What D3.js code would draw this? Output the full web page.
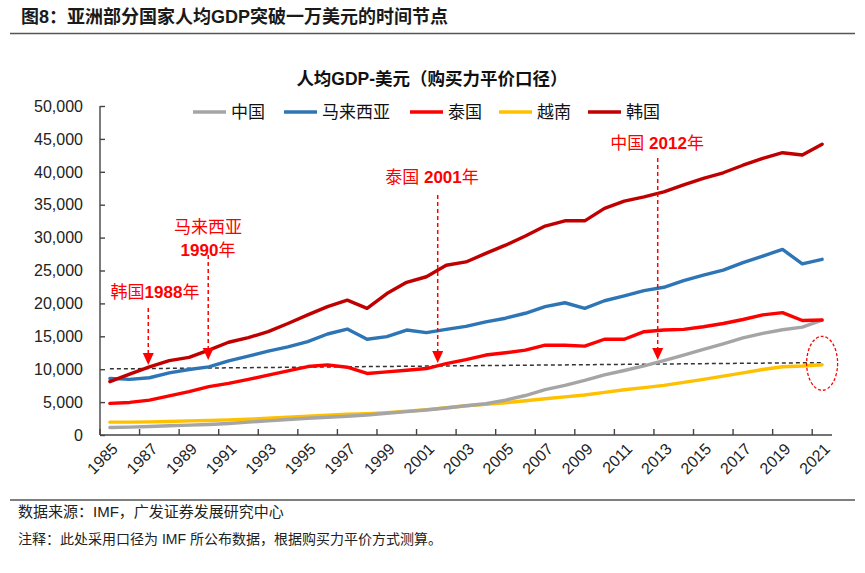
<!DOCTYPE html>
<html><head><meta charset="utf-8">
<script src="https://cdn.jsdelivr.net/npm/d3@7"></script>
<style>
html,body{margin:0;padding:0;background:#fff;}
svg{display:block;font-family:"Liberation Sans","Noto Sans CJK SC",sans-serif;}
</style></head>
<body>
<svg id="chart" width="865" height="573"></svg>
<script>
const years = ["1985","1986","1987","1988","1989","1990","1991","1992","1993","1994","1995","1996","1997","1998","1999","2000","2001","2002","2003","2004","2005","2006","2007","2008","2009","2010","2011","2012","2013","2014","2015","2016","2017","2018","2019","2020","2021"];
const china    = [1150,1200,1300,1400,1500,1600,1750,1950,2150,2350,2550,2700,2850,3050,3300,3550,3800,4100,4450,4750,5300,6000,6900,7550,8300,9150,9800,10500,11300,12150,13000,13850,14750,15450,16000,16400,17450];
const malaysia = [8600,8450,8700,9450,9950,10350,11250,12000,12750,13400,14200,15350,16100,14550,14950,15950,15550,16050,16500,17200,17750,18500,19500,20100,19250,20400,21150,21950,22450,23450,24300,25050,26200,27200,28200,26000,26700];
const thailand = [4800,4950,5300,5950,6600,7350,7850,8450,9100,9750,10400,10650,10300,9350,9600,9850,10100,10850,11450,12150,12500,12900,13650,13650,13500,14550,14550,15700,15950,16050,16450,16950,17550,18250,18600,17400,17480];
const vietnam  = [1950,1950,2000,2050,2150,2200,2300,2400,2550,2700,2850,3000,3150,3250,3400,3600,3850,4150,4450,4660,4900,5200,5500,5800,6080,6480,6880,7200,7550,8000,8450,8950,9450,9950,10380,10480,10680];
const korea    = [8100,9250,10350,11300,11800,12900,14100,14800,15700,16950,18250,19500,20500,19250,21500,23200,24050,25800,26300,27600,28850,30250,31750,32550,32550,34450,35550,36200,36950,38000,39000,39850,41000,42050,42900,42550,44200];

const seriesNames  = ["中国","马来西亚","泰国","越南","韩国"];
const seriesValues = [china, malaysia, thailand, vietnam, korea];
const seriesColors = ["#A5A5A5","#2E75B6","#FF0000","#FFC000","#C00000"];

const yTicks = [0,5000,10000,15000,20000,25000,30000,35000,40000,45000,50000];
const xLabelYears = ["1985","1987","1989","1991","1993","1995","1997","1999","2001","2003","2005","2007","2009","2011","2013","2015","2017","2019","2021"];

const threshold = [{year:1985, value:10050},{year:2021, value:11000}];
const annotations = [
  {lines:["韩国1988年"], year:1987.28, value:21700, arrowYear:1986.94, from:19300, to:10640},
  {lines:["马来西亚","1990年"], year:1989.96, value:31600, arrowYear:1989.97, from:27360, to:11400},
  {lines:["泰国 2001年"], year:2001.28, value:39200, arrowYear:2001.57, from:36470, to:10940},
  {lines:["中国 2012年"], year:2012.66, value:44380, arrowYear:2012.69, from:42100, to:11400}
];
const highlight = {year:2021, value:10900};

const svg = d3.select("#chart");

// Title
svg.append("text").attr("x",21).attr("y",23)
  .attr("font-size",18).attr("font-weight","bold").attr("fill","#1a1a1a")
  .text("图8：亚洲部分国家人均GDP突破一万美元的时间节点");
svg.append("line").attr("x1",10).attr("x2",855).attr("y1",33.5).attr("y2",33.5)
  .attr("stroke","#555").attr("stroke-width",1.6);

// Subtitle
svg.append("text").attr("x",432).attr("y",85).attr("text-anchor","middle")
  .attr("font-size",17.5).attr("font-weight","bold").attr("fill","#111")
  .text("人均GDP-美元（购买力平价口径）");

// Scales
const x = d3.scaleBand().domain(years).range([100,832]).padding(0);
const y = d3.scaleLinear().domain([0,50000]).range([435,106]);
const xc = d => x(d) + x.bandwidth()/2;
const xl = d3.scaleLinear().domain([1985,2021]).range([xc("1985"), xc("2021")]);

// Legend
const legendX = [193, 284, 410, 499, 588];
const lg = svg.append("g");
seriesNames.forEach((n,i)=>{
  const g = lg.append("g").attr("transform",`translate(${legendX[i]},112)`);
  g.append("line").attr("x1",0).attr("x2",33).attr("y1",0).attr("y2",0)
    .attr("stroke",seriesColors[i]).attr("stroke-width",3.5);
  g.append("text").attr("x",38).attr("y",6).attr("font-size",17).attr("fill","#111").text(n);
});

// Y axis
const yAxis = svg.append("g").attr("transform","translate(100,0)")
  .call(d3.axisRight(y).tickValues(yTicks).tickSize(5).tickFormat(""));
yAxis.select(".domain").attr("stroke","#444").attr("stroke-width",1.4).attr("d","M0,106V435");
yAxis.selectAll(".tick line").attr("stroke","#444").attr("stroke-width",1.4);
svg.append("g").selectAll("text").data(yTicks).join("text")
  .attr("x",83).attr("y",d=>y(d)).attr("dy","0.36em").attr("text-anchor","end")
  .attr("font-size",16).attr("fill","#222").text(d3.format(","));

// X axis
const xg = svg.append("g");
xg.append("line").attr("x1",100).attr("x2",832).attr("y1",435).attr("y2",435)
  .attr("stroke","#444").attr("stroke-width",1.4);
xg.selectAll("line.tk").data(xLabelYears).join("line").attr("class","tk")
  .attr("x1",d=>x(d)).attr("x2",d=>x(d)).attr("y1",435).attr("y2",429)
  .attr("stroke","#444").attr("stroke-width",1.4);
xg.selectAll("text").data(xLabelYears).join("text")
  .attr("transform",d=>`translate(${xc(d)+5},${446}) rotate(-45)`)
  .attr("text-anchor","end").attr("dy","0.35em")
  .attr("font-size",16).attr("fill","#222").text(d=>d);

// Threshold dashed line
svg.append("line")
  .attr("x1",xl(threshold[0].year)).attr("y1",y(threshold[0].value))
  .attr("x2",xl(threshold[1].year)).attr("y2",y(threshold[1].value))
  .attr("stroke","#333").attr("stroke-width",1.5).attr("stroke-dasharray","4,3");

// Lines
const line = d3.line().x((d,i)=>xc(years[i])).y(d=>y(d));
const drawOrder = [3,0,2,1,4];
drawOrder.forEach(i=>{
  svg.append("path").datum(seriesValues[i]).attr("d",line)
    .attr("fill","none").attr("stroke",seriesColors[i]).attr("stroke-width",3.4)
    .attr("stroke-linejoin","round").attr("stroke-linecap","round");
});

// Annotations
const red = "#FF0000";
annotations.forEach(a=>{
  a.lines.forEach((ln,k)=>{
    const t = svg.append("text").attr("x",xl(a.year)).attr("y",y(a.value)+k*23).attr("dy","0.36em")
      .attr("text-anchor","middle").attr("font-size",17).attr("fill",red);
    ln.split(/(\d+)/).filter(s=>s.length).forEach(s=>{
      t.append("tspan").attr("font-weight",/\d/.test(s)?"bold":"normal").text(s);
    });
  });
  const ax = xl(a.arrowYear), y1 = y(a.from), y2 = y(a.to);
  svg.append("line").attr("x1",ax).attr("x2",ax).attr("y1",y1).attr("y2",y2-11)
    .attr("stroke",red).attr("stroke-width",1.5).attr("stroke-dasharray","4,3");
  svg.append("path").attr("d",`M${ax-5.5},${y2-12}L${ax+5.5},${y2-12}L${ax},${y2}Z`).attr("fill",red);
});

// Highlight ellipse
svg.append("ellipse").attr("cx",xl(highlight.year)).attr("cy",y(highlight.value))
  .attr("rx",15.5).attr("ry",27).attr("fill","none").attr("stroke",red)
  .attr("stroke-width",1.3).attr("stroke-dasharray","3,2");

// Footer
svg.append("line").attr("x1",10).attr("x2",855).attr("y1",500).attr("y2",500)
  .attr("stroke","#555").attr("stroke-width",1.6);
svg.append("text").attr("x",18).attr("y",517).attr("font-size",15).attr("fill","#222")
  .text("数据来源：IMF，广发证券发展研究中心");
svg.append("text").attr("x",18).attr("y",544).attr("font-size",14).attr("fill","#222")
  .text("注释：此处采用口径为 IMF 所公布数据，根据购买力平价方式测算。");
</script>
</body></html>
